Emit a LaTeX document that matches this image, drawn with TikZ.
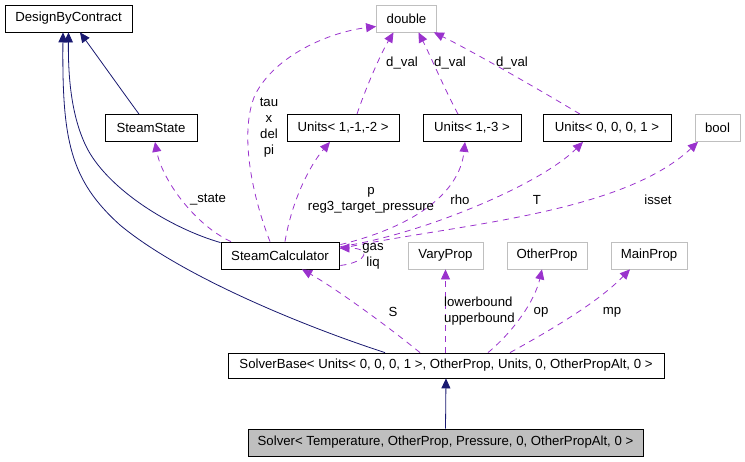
\documentclass[tikz,border=0pt]{standalone}
\usepackage{fontspec}
\setmainfont{Liberation Sans}
\usetikzlibrary{arrows.meta,calc}
\definecolor{navyc}{HTML}{191970}
\definecolor{purp}{HTML}{9A32CD}
\definecolor{extgray}{HTML}{BFBFBF}
\tikzset{
  box/.style={draw=black,line width=0.8pt,minimum height=27pt,inner sep=0pt,font=\fontsize{13.2}{16}\selectfont},
  extbox/.style={box,draw=extgray},
  lbl/.style={inner sep=0pt,font=\fontsize{13.2}{16}\selectfont,align=center},
  inh/.style={draw=navyc,line width=0.8pt,-{Triangle[length=10pt,width=9pt]}},
  use/.style={draw=purp,line width=0.8pt,dash pattern=on 6pt off 5pt,-{Triangle[length=10pt,width=9pt]}}
}
\begin{document}
\begin{tikzpicture}[x=1pt,y=-1pt]
\path[use as bounding box] (0,0) rectangle (745,461);
% nodes
\node[box,minimum width=127pt] (dbc) at (68.5,18.5) {DesignByContract};
\node[extbox,minimum width=60pt] (dbl) at (406.5,18.5) {double};
\node[box,minimum width=92pt] (ss) at (151,128) {SteamState};
\node[box,minimum width=112pt] (u1) at (343,128) {Units< 1,-1,-2 >};
\node[box,minimum width=98pt] (u2) at (472,128) {Units< 1,-3 >};
\node[box,minimum width=128pt] (u3) at (607,128) {Units< 0, 0, 0, 1 >};
\node[extbox,minimum width=45pt] (bool) at (717.5,128) {bool};
\node[box,minimum width=118pt] (sc) at (280,255.5) {SteamCalculator};
\node[extbox,minimum width=75pt] (vp) at (445.5,255.5) {VaryProp};
\node[extbox,minimum width=80pt] (op) at (547,255.5) {OtherProp};
\node[extbox,minimum width=76pt] (mp) at (649,255.5) {MainProp};
\node[box,minimum width=436pt,minimum height=25pt] (sb) at (446,365.5) {SolverBase< Units< 0, 0, 0, 1 >, OtherProp, Units, 0, OtherPropAlt, 0 >};
\node[box,fill=extgray,minimum width=395pt] (sol) at (445.5,442.5) {Solver< Temperature, OtherProp, Pressure, 0, OtherPropAlt, 0 >};
% inheritance
\draw[inh] ($(ss.north)+(-12,0)$) .. controls (125,95) and (100,60) .. ($(dbc.south)+(11.5,0)$);
\draw[inh] ($(sc.north west)+(0,1)$) .. controls (170,228) and (110,190) .. (88,150) .. controls (72,120) and (68,80) .. (dbc.south);
\draw[inh] ($(sb.north)+(-61,0)$) .. controls (300,325) and (180,275) .. (120,225) .. controls (70,180) and (62,140) .. ($(dbc.south)+(-5.5,0)$);
\draw[inh] (sol.north) -- (sb.south);
% usage
\draw[use] ($(sc.north)+(-10,0)$) .. controls (250,190) and (240,130) .. (255,95) .. controls (275,55) and (330,32) .. ($(dbl.west)+(0,8)$);
\draw[use] ($(u1.north)+(14,0)$) .. controls (365,90) and (380,55) .. ($(dbl.south)+(-13,0)$);
\draw[use] ($(u2.north)+(-14,0)$) .. controls (445,90) and (430,55) .. ($(dbl.south)+(12,0)$);
\draw[use] ($(u3.north)+(-27,0)$) .. controls (540,90) and (470,50) .. ($(dbl.south east)+(-3,0)$);
\draw[use] ($(sc.north)+(-49,0)$) .. controls (195,225) and (162,180) .. ($(ss.south)+(4,0)$);
\draw[use] ($(sc.north)+(5,0)$) .. controls (292,200) and (310,165) .. ($(u1.south)+(-13,0)$);
\draw[use] ($(sc.north east)+(1,3)$) .. controls (420,225) and (460,190) .. ($(u2.south)+(-7,0)$);
\draw[use] ($(sc.north east)+(1,5)$) .. controls (420,235) and (540,185) .. ($(u3.south)+(-24,0)$);
\draw[use] ($(sc.north east)+(1,7)$) .. controls (450,225) and (620,215) .. ($(bool.south)+(-19.5,0)$);
\draw[use] ($(sc.east)+(1,10)$) .. controls (368,262) and (372,248) .. ($(sc.east)+(0,-7.5)$);
\draw[use] ($(sb.north)+(-26,0)$) .. controls (380,320) and (330,285) .. ($(sc.south)+(22,0)$);
\draw[use] (sb.north -| vp.south) -- (vp.south);
\draw[use] ($(sb.north)+(42,0)$) .. controls (515,330) and (535,300) .. ($(op.south)+(-5,0)$);
\draw[use] ($(sb.north)+(64,0)$) .. controls (560,325) and (600,300) .. ($(mp.south)+(-19,0)$);
% labels
\node[lbl] (ltau) at (269,128) {tau\\x\\del\\pi};
\node[lbl] (ld1) at (402,63) {d\_val};
\node[lbl] (ld2) at (450,63) {d\_val};
\node[lbl] (ld3) at (512,63) {d\_val};
\node[lbl] (lst) at (208,200) {\_state};
\node[lbl] (lp) at (371,200) {p\\reg3\_target\_pressure};
\node[lbl] (lrho) at (460,200) {rho};
\node[lbl] (lT) at (537,200) {T};
\node[lbl] (liss) at (658,200) {isset};
\node[lbl] (lgas) at (373,256) {gas\\liq};
\node[lbl] (lS) at (393,312) {S};
\node[lbl,anchor=west,align=left] (lbd) at (444,311) {lowerbound\\upperbound};
\node[lbl] (lop) at (541,312) {op};
\node[lbl] (lmp) at (612,312) {mp};
\end{tikzpicture}
\end{document}
